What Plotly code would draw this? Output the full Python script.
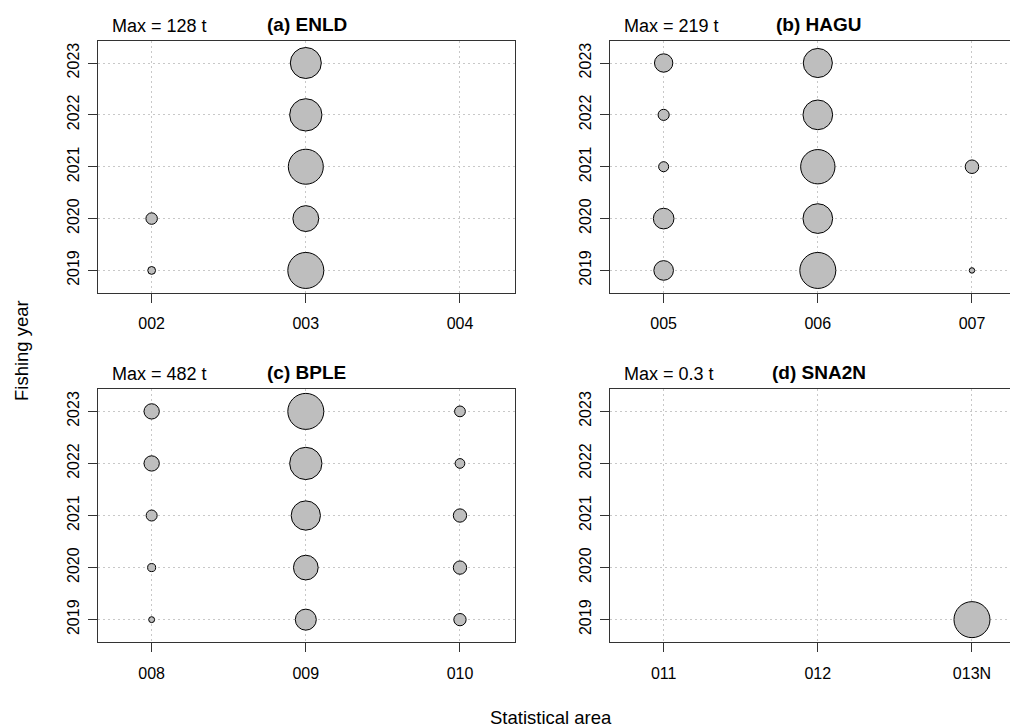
import plotly.graph_objects as go

# ---------------- data ----------------
years = [2019, 2020, 2021, 2022, 2023]

# (a) ENLD
a_areas = ["002", "003", "004"]
a_area = ["002", "002", "003", "003", "003", "003", "003"]
a_year = [2019, 2020, 2019, 2020, 2021, 2022, 2023]
a_catch = [6, 13, 128, 66, 121, 103, 95]

# (b) HAGU
b_areas = ["005", "006", "007"]
b_area = ["005", "005", "005", "005", "005", "006", "006", "006", "006", "006", "007", "007"]
b_year = [2019, 2020, 2021, 2022, 2023, 2019, 2020, 2021, 2022, 2023, 2019, 2021]
b_catch = [65, 72, 17, 21, 57, 219, 149, 199, 149, 143, 5, 31]

# (c) BPLE
c_areas = ["008", "009", "010"]
c_area = ["008"] * 5 + ["009"] * 5 + ["010"] * 5
c_year = years * 3
c_catch = [13, 24, 45, 87, 87, 164, 227, 319, 388, 482, 56, 66, 66, 35, 43]

# (d) SNA2N
d_areas = ["011", "012", "013N"]
d_area = ["013N"]
d_year = [2019]
d_catch = [0.3]

titles = ["(a) ENLD", "(b) HAGU", "(c) BPLE", "(d) SNA2N"]

# ---------------- layout geometry ----------------
W, H = 1030, 728
OFF = 8  # page body margin
FONT = "Liberation Sans, Arial, sans-serif"
LINE = "#333333"
GRID = "#c8c8c8"

def px_x(p):
    return (p - OFF) / W

def px_y(p):
    return 1 - (p - OFF) / H

panels = [
    dict(areas=a_areas, area=a_area, year=a_year, catch=a_catch,
         x0=98, x1=515, y0=40.7, y1=293.0),
    dict(areas=b_areas, area=b_area, year=b_year, catch=b_catch,
         x0=610, x1=1027, y0=40.7, y1=293.0),
    dict(areas=c_areas, area=c_area, year=c_year, catch=c_catch,
         x0=98, x1=515, y0=389.0, y1=642.3),
    dict(areas=d_areas, area=d_area, year=d_year, catch=d_catch,
         x0=610, x1=1027, y0=389.0, y1=642.3),
]

D_MAX = 36  # px diameter of the largest bubble in each panel

fig = go.Figure()
layout = dict(
    width=W, height=H,
    margin=dict(l=0, r=0, t=0, b=0),
    paper_bgcolor="white", plot_bgcolor="white",
    showlegend=False,
    font=dict(family=FONT, color="black"),
)
annotations = []

for i, p in enumerate(panels):
    n = "" if i == 0 else str(i + 1)
    vmax = max(p["catch"])
    fig.add_trace(go.Scatter(
        x=p["area"], y=p["year"], mode="markers",
        xaxis="x" + n, yaxis="y" + n,
        marker=dict(size=p["catch"], sizemode="area",
                    sizeref=2.0 * vmax / D_MAX ** 2,
                    color="#bebebe", opacity=1,
                    line=dict(color="black", width=1)),
        hoverinfo="x+y",
    ))
    layout["xaxis" + n] = dict(
        domain=[px_x(p["x0"]), px_x(p["x1"])],
        anchor="y" + n,
        type="category", categoryorder="array", categoryarray=p["areas"],
        tickvals=p["areas"], ticktext=p["areas"],
        range=[-0.348, 2.357],
        showgrid=True, gridcolor=GRID, gridwidth=1, griddash="2px,3px",
        zeroline=False,
        showline=True, linecolor=LINE, linewidth=1.3, mirror=True,
        ticks="outside", ticklen=9, tickwidth=1.3, tickcolor=LINE,
        tickfont=dict(size=16, color="black", family=FONT),
        ticklabelstandoff=7,
    )
    layout["yaxis" + n] = dict(
        domain=[px_y(p["y1"]), px_y(p["y0"])],
        anchor="x" + n,
        range=[2018.565, 2023.43],
        tickvals=years, ticktext=[str(y) for y in years],
        tickangle=-90,
        showgrid=True, gridcolor=GRID, gridwidth=1, griddash="2px,3px",
        zeroline=False,
        showline=True, linecolor=LINE, linewidth=1.3, mirror=True,
        ticks="outside", ticklen=9, tickwidth=1.3, tickcolor=LINE,
        tickfont=dict(size=16, color="black", family=FONT),
        ticklabelstandoff=2,
    )
    # Max label
    annotations.append(dict(
        text=f"Max = {vmax:g} t", xref="paper", yref="paper",
        x=px_x(p["x0"] + 12), y=px_y(p["y0"] - 15),
        xanchor="left", yanchor="middle", showarrow=False,
        font=dict(size=18, color="black", family=FONT),
    ))
    # Panel title
    annotations.append(dict(
        text=f"<b>{titles[i]}</b>", xref="paper", yref="paper",
        x=px_x((p["x0"] + p["x1"]) / 2), y=px_y(p["y0"] - 16.5),
        xanchor="center", yanchor="middle", showarrow=False,
        font=dict(size=19, color="black", family=FONT),
    ))

# Outer axis titles
annotations.append(dict(
    text="Statistical area", xref="paper", yref="paper",
    x=px_x(551), y=px_y(717), xanchor="center", yanchor="middle",
    showarrow=False, font=dict(size=18.5, color="black", family=FONT),
))
annotations.append(dict(
    text="Fishing year", xref="paper", yref="paper",
    x=px_x(21), y=px_y(351), xanchor="center", yanchor="middle",
    textangle=-90, showarrow=False,
    font=dict(size=18.5, color="black", family=FONT),
))

layout["annotations"] = annotations
fig.update_layout(**layout)
fig.write_html("out.html")
